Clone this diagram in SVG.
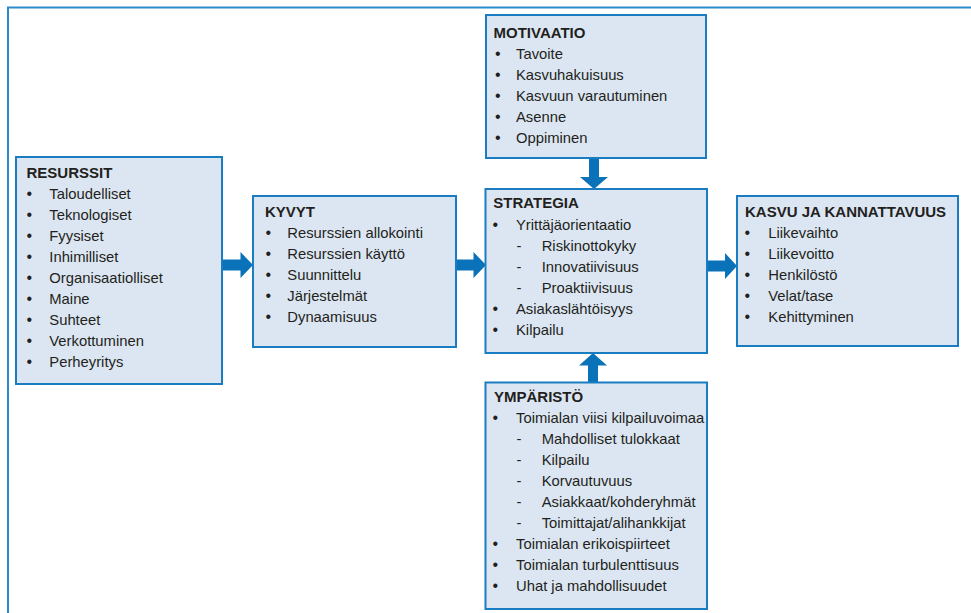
<svg xmlns="http://www.w3.org/2000/svg" width="971" height="613" viewBox="0 0 971 613">
<style>
.box{fill:#dce6f2;stroke:#1a7dc2;stroke-width:2}
.arr{fill:#0a72b8}
text{font-family:"Liberation Sans",Arial,sans-serif;font-size:14.8px;fill:#231f20}
.t{font-weight:bold;font-size:15px}
.b{font-size:16px}
</style>
<rect width="971" height="613" fill="#fff"/>
<path d="M8,613 V7.5 H971" fill="none" stroke="#2a8bc9" stroke-width="2"/>
<g id="connectors">
<polygon class="arr" points="222,259.5 240.5,259.5 240.5,252 253,265 240.5,278 240.5,270.5 222,270.5"/>
<polygon class="arr" points="456,259.5 473.5,259.5 473.5,252 486,265 473.5,278 473.5,270.5 456,270.5"/>
<polygon class="arr" points="707,260.5 725,260.5 725,253 737,266 725,279 725,271.5 707,271.5"/>
<polygon class="arr" points="589,157 599,157 599,177 608,177 594,189 580,177 589,177"/>
<polygon class="arr" points="588,383 598,383 598,365.5 607,365.5 593,353 579,365.5 588,365.5"/>
</g>
<g id="motivaatio">
<rect class="box" x="486" y="15" width="220" height="143"/>
<text class="t" x="493.5" y="37.5">MOTIVAATIO</text>
<text class="b" x="495" y="59">•</text><text x="516" y="59">Tavoite</text>
<text class="b" x="495" y="80">•</text><text x="516" y="80">Kasvuhakuisuus</text>
<text class="b" x="495" y="101">•</text><text x="516" y="101">Kasvuun varautuminen</text>
<text class="b" x="495" y="122">•</text><text x="516" y="122">Asenne</text>
<text class="b" x="495" y="143">•</text><text x="516" y="143">Oppiminen</text>
</g>
<g id="resurssit">
<rect class="box" x="16" y="157" width="206" height="227"/>
<text class="t" x="26.5" y="177.7">RESURSSIT</text>
<text class="b" x="26.5" y="198.7">•</text><text x="49.3" y="198.7">Taloudelliset</text>
<text class="b" x="26.5" y="219.7">•</text><text x="49.3" y="219.7">Teknologiset</text>
<text class="b" x="26.5" y="240.7">•</text><text x="49.3" y="240.7">Fyysiset</text>
<text class="b" x="26.5" y="261.7">•</text><text x="49.3" y="261.7">Inhimilliset</text>
<text class="b" x="26.5" y="282.7">•</text><text x="49.3" y="282.7">Organisaatiolliset</text>
<text class="b" x="26.5" y="303.7">•</text><text x="49.3" y="303.7">Maine</text>
<text class="b" x="26.5" y="324.7">•</text><text x="49.3" y="324.7">Suhteet</text>
<text class="b" x="26.5" y="345.7">•</text><text x="49.3" y="345.7">Verkottuminen</text>
<text class="b" x="26.5" y="366.7">•</text><text x="49.3" y="366.7">Perheyritys</text>
</g>
<g id="kyvyt">
<rect class="box" x="253" y="196" width="203" height="151"/>
<text class="t" x="265" y="216.7">KYVYT</text>
<text class="b" x="265.5" y="237.5">•</text><text x="287.3" y="237.5">Resurssien allokointi</text>
<text class="b" x="265.5" y="258.5">•</text><text x="287.3" y="258.5">Resurssien käyttö</text>
<text class="b" x="265.5" y="279.5">•</text><text x="287.3" y="279.5">Suunnittelu</text>
<text class="b" x="265.5" y="300.5">•</text><text x="287.3" y="300.5">Järjestelmät</text>
<text class="b" x="265.5" y="321.5">•</text><text x="287.3" y="321.5">Dynaamisuus</text>
</g>
<g id="strategia">
<rect class="box" x="485.5" y="189" width="221.5" height="164"/>
<text class="t" x="493.3" y="208.3">STRATEGIA</text>
<text class="b" x="492.5" y="230">•</text><text x="516" y="230">Yrittäjäorientaatio</text>
<text x="516.5" y="251">-</text><text x="541.7" y="251">Riskinottokyky</text>
<text x="516.5" y="272">-</text><text x="541.7" y="272">Innovatiivisuus</text>
<text x="516.5" y="293">-</text><text x="541.7" y="293">Proaktiivisuus</text>
<text class="b" x="492.5" y="314">•</text><text x="516" y="314">Asiakaslähtöisyys</text>
<text class="b" x="492.5" y="335">•</text><text x="516" y="335">Kilpailu</text>
</g>
<g id="kasvu">
<rect class="box" x="737" y="196" width="221" height="150"/>
<text class="t" x="745" y="216.7">KASVU JA KANNATTAVUUS</text>
<text class="b" x="744.5" y="237.7">•</text><text x="768.3" y="237.7">Liikevaihto</text>
<text class="b" x="744.5" y="258.7">•</text><text x="768.3" y="258.7">Liikevoitto</text>
<text class="b" x="744.5" y="279.7">•</text><text x="768.3" y="279.7">Henkilöstö</text>
<text class="b" x="744.5" y="300.7">•</text><text x="768.3" y="300.7">Velat/tase</text>
<text class="b" x="744.5" y="321.7">•</text><text x="768.3" y="321.7">Kehittyminen</text>
</g>
<g id="ymparisto">
<rect class="box" x="485.5" y="382.5" width="221.5" height="226.5"/>
<text class="t" x="494" y="402.3">YMPÄRISTÖ</text>
<text class="b" x="492.5" y="423.3">•</text><text x="516" y="423.3">Toimialan viisi kilpailuvoimaa</text>
<text x="516.5" y="444.3">-</text><text x="541.7" y="444.3">Mahdolliset tulokkaat</text>
<text x="516.5" y="465.3">-</text><text x="541.7" y="465.3">Kilpailu</text>
<text x="516.5" y="486.3">-</text><text x="541.7" y="486.3">Korvautuvuus</text>
<text x="516.5" y="507.3">-</text><text x="541.7" y="507.3">Asiakkaat/kohderyhmät</text>
<text x="516.5" y="528.3">-</text><text x="541.7" y="528.3">Toimittajat/alihankkijat</text>
<text class="b" x="492.5" y="549.3">•</text><text x="516" y="549.3">Toimialan erikoispiirteet</text>
<text class="b" x="492.5" y="570.3">•</text><text x="516" y="570.3">Toimialan turbulenttisuus</text>
<text class="b" x="492.5" y="591.3">•</text><text x="516" y="591.3">Uhat ja mahdollisuudet</text>
</g>
</svg>
